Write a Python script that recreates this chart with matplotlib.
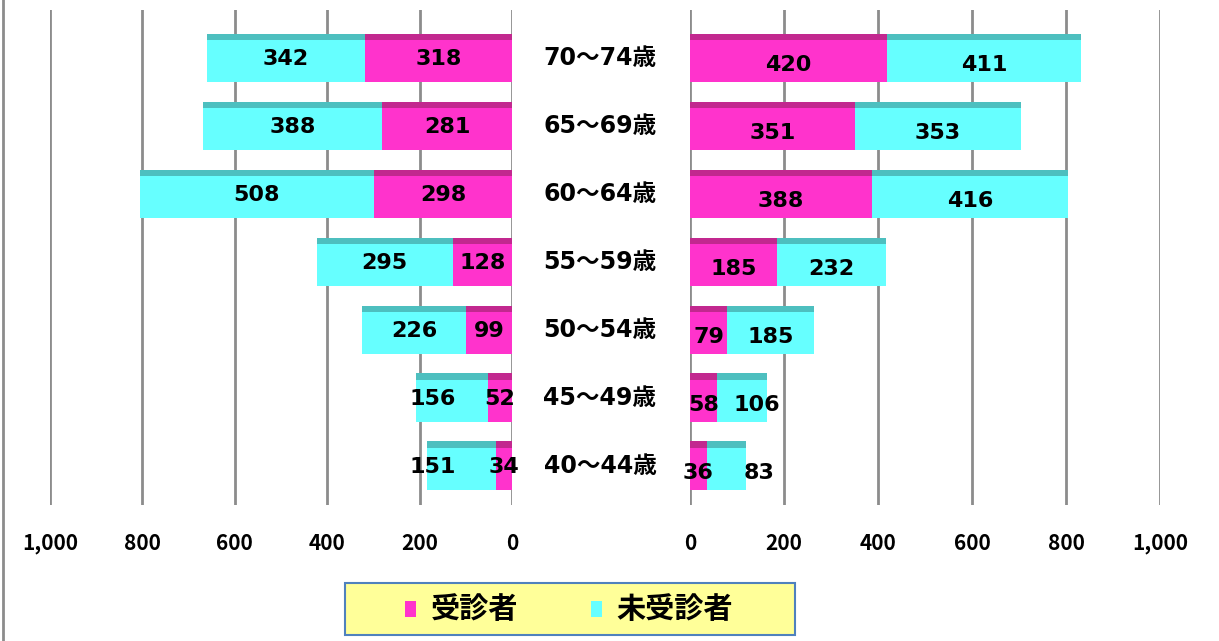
import matplotlib
matplotlib.use("Agg")
import matplotlib.pyplot as plt
from matplotlib.patches import Rectangle
from matplotlib.lines import Line2D
import matplotlib.transforms as mtransforms

plt.rcParams['font.family'] = ['DejaVu Sans', 'Noto Sans CJK JP']

ages = ["40～44歳", "45～49歳", "50～54歳", "55～59歳", "60～64歳", "65～69歳", "70～74歳"]
left_exam = [34, 52, 99, 128, 298, 281, 318]
left_noexam = [151, 156, 226, 295, 508, 388, 342]
right_exam = [36, 58, 79, 185, 388, 351, 420]
right_noexam = [83, 106, 185, 232, 416, 353, 411]
ticks = [0, 200, 400, 600, 800, 1000]
tick_labels = ["0", "200", "400", "600", "800", "1,000"]
legend_labels = ["受診者", "未受診者"]

# label nudges (screen pixels, + = right) to avoid overlapping labels
left_noexam_nudge = [-29, -19, 0, 0, 0, 0, 0]
right_noexam_nudge = [33, 15, 0, 0, 0, 0, 0]

MAG = "#FF33CC"
MAG_D = "#C2288F"
CYA = "#66FFFF"
CYA_D = "#4DBFBF"
CJK = ['Noto Sans CJK JP', 'DejaVu Sans']

W, H = 1219, 641
fig = plt.figure(figsize=(W / 100, H / 100), dpi=100)

bot = 1 - 505 / H
top = 1 - 10 / H
axL = fig.add_axes([50 / W, bot, (512 - 50) / W, top - bot])
axR = fig.add_axes([690 / W, bot, (1160 - 690) / W, top - bot])

ys = list(range(len(ages)))
bh = 0.72
sh = 0.10

def draw(ax, exam, noexam, nudge, dy):
    ax.barh(ys, exam, height=bh, color=MAG, zorder=3)
    ax.barh(ys, noexam, left=exam, height=bh, color=CYA, zorder=3)
    ys_top = [y + bh / 2 - sh / 2 for y in ys]
    ax.barh(ys_top, exam, height=sh, color=MAG_D, zorder=4)
    ax.barh(ys_top, noexam, left=exam, height=sh, color=CYA_D, zorder=4)
    for y, a, b, n in zip(ys, exam, noexam, nudge):
        ax.text(a / 2, y + dy, str(a), ha='center', va='center',
                fontsize=16, fontweight='bold', color='black', zorder=5,
                family='DejaVu Sans')
        ax.annotate(str(b), (a + b / 2, y + dy), xytext=(n * 0.72, 0),
                    textcoords='offset points', ha='center', va='center',
                    fontsize=16, fontweight='bold', color='black', zorder=5,
                    family='DejaVu Sans')
    ax.set_xlim(0, 1000)
    ax.set_ylim(-0.574, 6.706)
    ax.set_xticks(ticks)
    ax.set_xticklabels(tick_labels, fontsize=15, fontweight='bold', family=CJK)
    ax.set_yticks([])
    ax.tick_params(axis='x', length=0, pad=20)
    ax.grid(axis='x', color='#8C8C8C', linewidth=2, zorder=0)
    for s in ax.spines.values():
        s.set_visible(False)
    ax.set_facecolor('none')

draw(axL, left_exam, left_noexam, left_noexam_nudge, -0.015)
axL.invert_xaxis()
draw(axR, right_exam, right_noexam, right_noexam_nudge, -0.10)

# center age labels
trans = mtransforms.blended_transform_factory(fig.transFigure, axR.transData)
for y, lab in zip(ys, ages):
    fig.text(600 / W, y, lab, transform=trans, ha='center', va='center',
             fontsize=17, fontweight='bold', color='black',
             family=['DejaVu Sans', 'Noto Sans CJK JP'])

# left border line
fig.add_artist(Line2D([3 / W, 3 / W], [0, 1], color='#8C8C8C', linewidth=2))

# legend box
lx0, ly0, lx1, ly1 = 345, 583, 795, 635
fig.add_artist(Rectangle((lx0 / W, 1 - ly1 / H), (lx1 - lx0) / W, (ly1 - ly0) / H,
                         transform=fig.transFigure, facecolor='#FFFF99',
                         edgecolor='#4F81BD', linewidth=1.5))
ly = 1 - 609 / H
fig.add_artist(Rectangle((405 / W, 1 - 617 / H), 11 / W, 16 / H,
                         transform=fig.transFigure, facecolor=MAG, edgecolor='none'))
fig.text(431 / W, ly, legend_labels[0], fontsize=21, fontweight='bold', va='center',
         ha='left', family=CJK)
fig.add_artist(Rectangle((591 / W, 1 - 617 / H), 11 / W, 16 / H,
                         transform=fig.transFigure, facecolor=CYA, edgecolor='none'))
fig.text(616 / W, ly, legend_labels[1], fontsize=21, fontweight='bold', va='center',
         ha='left', family=CJK)

fig.savefig("out.png", dpi=100)
